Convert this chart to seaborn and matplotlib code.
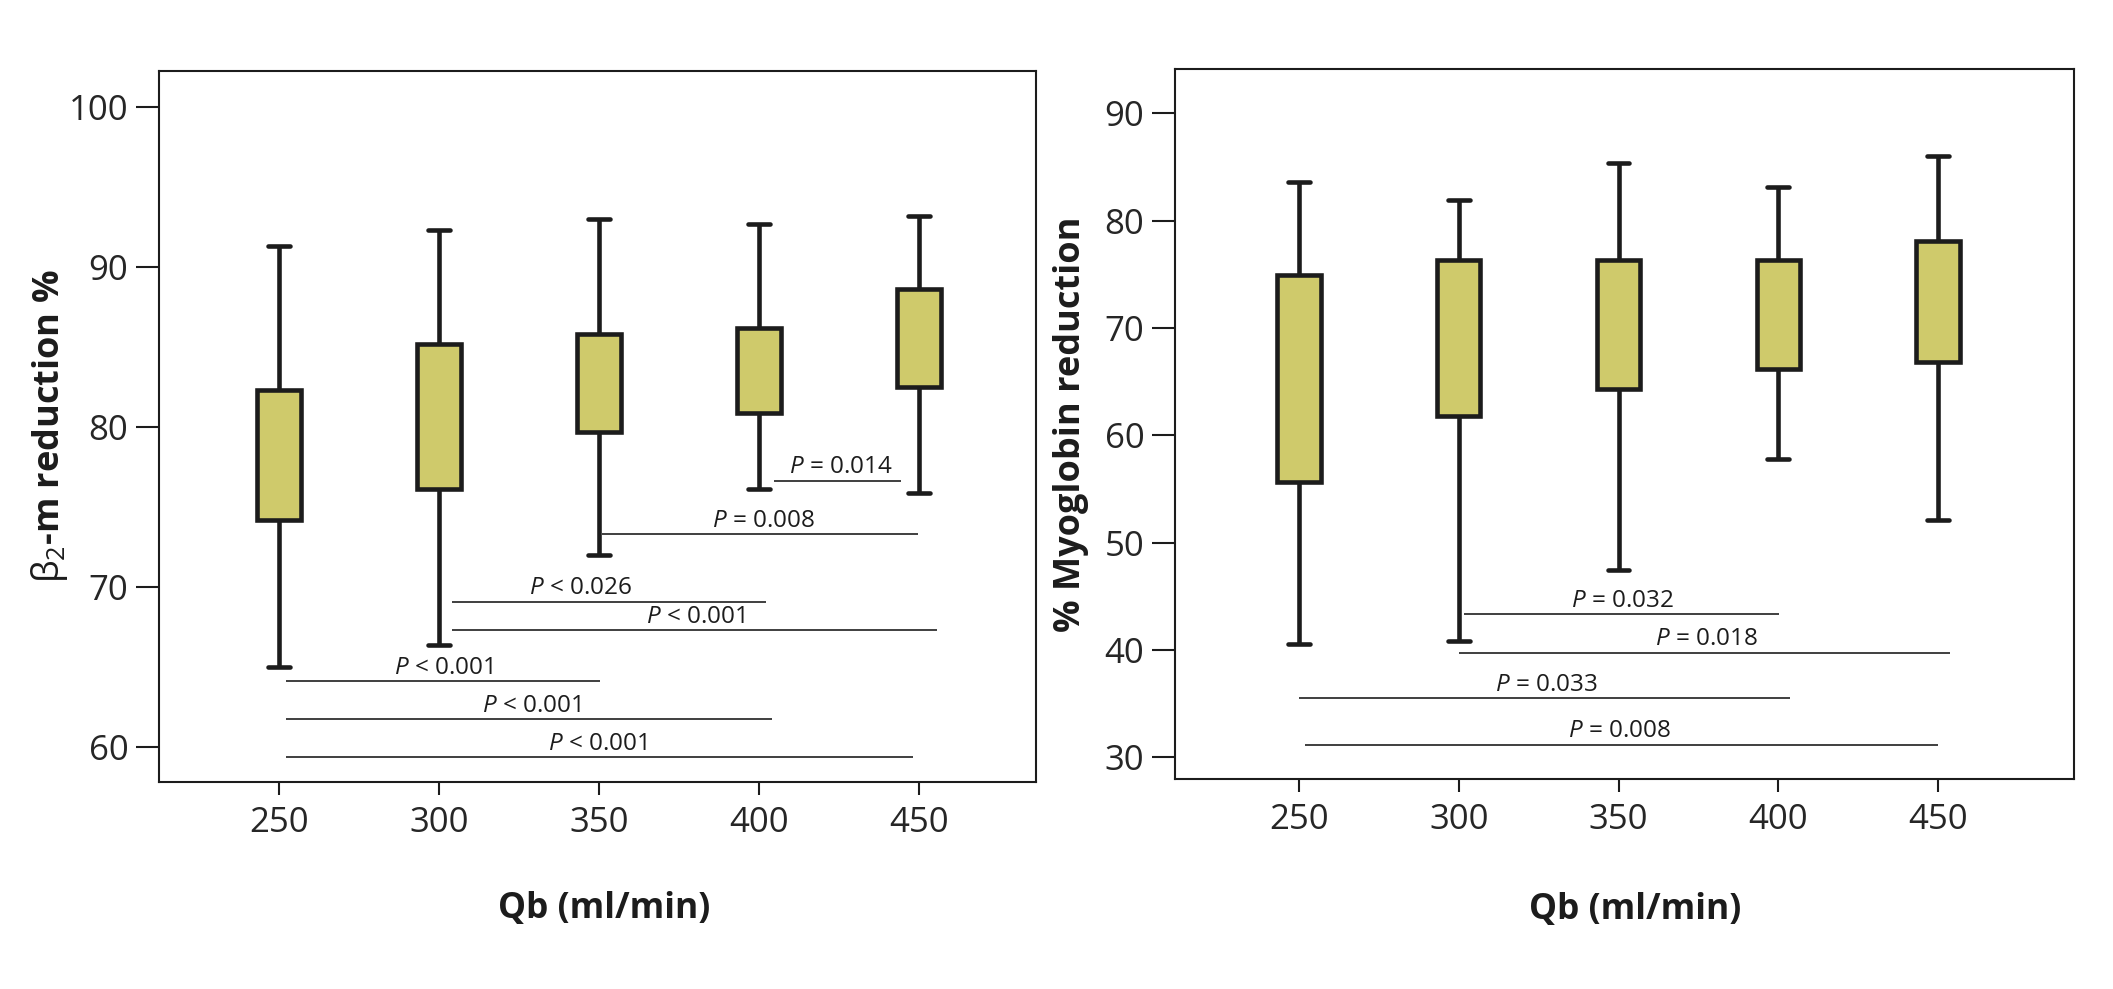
import pandas as pd
import matplotlib
matplotlib.use("Agg")
import matplotlib.pyplot as plt
import seaborn as sns

# blood flow rates on the x axis
qb = [250, 300, 350, 400, 450]

# beta2-microglobulin reduction %: whisker ends and box edges per Qb
b2m_low = [65.0, 66.4, 72.0, 76.1, 75.9]
b2m_q1 = [74.2, 76.1, 79.7, 80.9, 82.5]
b2m_q3 = [82.3, 85.2, 85.8, 86.2, 88.6]
b2m_high = [91.3, 92.3, 93.0, 92.7, 93.2]

# myoglobin reduction %
myo_low = [40.5, 40.8, 47.4, 57.8, 52.1]
myo_q1 = [55.6, 61.8, 64.3, 66.2, 66.8]
myo_q3 = [74.9, 76.3, 76.3, 76.3, 78.1]
myo_high = [83.6, 81.9, 85.4, 83.1, 86.0]

# pairwise comparisons (bar from / to, bar level, label, label centre)
b2m_p_from = [404.8, 350.8, 304.0, 304.0, 252.1, 252.1, 252.1]
b2m_p_to = [444.4, 449.6, 402.2, 455.7, 350.3, 404.1, 448.1]
b2m_p_level = [76.64, 73.29, 69.07, 67.3, 64.11, 61.74, 59.38]
b2m_p_label = ["P = 0.014", "P = 0.008", "P < 0.026", "P < 0.001",
               "P < 0.001", "P < 0.001", "P < 0.001"]
b2m_p_at = [425.6, 401.3, 344.3, 380.0, 301.4, 328.9, 349.6]

myo_p_from = [301.7, 300.2, 250.1, 251.9]
myo_p_to = [400.3, 453.8, 403.7, 450.0]
myo_p_level = [43.3, 39.73, 35.47, 31.12]
myo_p_label = ["P = 0.032", "P = 0.018", "P = 0.033", "P = 0.008"]
myo_p_at = [351.2, 377.6, 327.3, 350.4]

BOX_FILL = "#cfca6b"
INK = "#1c1c1c"
BAR_INK = "#303030"

sns.set_style("ticks")
plt.rcParams["font.family"] = ["Open Sans", "DejaVu Sans"]
plt.rcParams["mathtext.fontset"] = "custom"
plt.rcParams["mathtext.rm"] = "Open Sans"
plt.rcParams["mathtext.it"] = "Open Sans:italic"
plt.rcParams["mathtext.bf"] = "Open Sans:bold"


def box_frame(low, q1, q3, high):
    # five points per group so the quartiles fall on the box edges;
    # whiskers run to min/max and the median line is hidden
    rows = []
    for x, lo, a, b, hi in zip(qb, low, q1, q3, high):
        for v in (lo, a, a, b, hi):
            rows.append({"qb": x, "value": v})
    return pd.DataFrame(rows)


def draw_panel(ax, df, ylim, yticks, ylabel, p_from, p_to, p_level, p_label, p_at):
    sns.boxplot(data=df, x="qb", y="value", native_scale=True, width=0.27,
                whis=(0, 100), showfliers=False, color=BOX_FILL, saturation=1,
                linecolor=INK, linewidth=3.3, medianprops={"visible": False}, ax=ax)

    ax.hlines(p_level, p_from, p_to, color=BAR_INK, linewidth=1.3, zorder=1)
    for x, y, lab in zip(p_at, p_level, p_label):
        ax.annotate(lab.replace("P", "$P$", 1), xy=(x, y), xytext=(0, 5.5),
                    textcoords="offset points", ha="center", va="baseline",
                    fontsize=17.5, color=INK)

    ax.set_ylim(*ylim)
    ax.set_yticks(yticks)
    ax.set_xticks(qb)
    ax.set_xticklabels([str(v) for v in qb])
    ax.set_xlabel("Qb (ml/min)", fontsize=25.5, fontweight="bold", color=INK)
    ax.set_ylabel(ylabel, fontsize=26, fontweight="bold", color=INK)

    for side in ["left", "right", "top", "bottom"]:
        ax.spines[side].set_visible(True)
        ax.spines[side].set_linewidth(1.5)
        ax.spines[side].set_color(INK)
    ax.tick_params(axis="both", labelsize=25, colors=INK, width=1.5,
                   top=False, right=False)
    ax.tick_params(axis="y", length=16.5, pad=5.5)
    ax.tick_params(axis="x", length=9, pad=8)
    for lab in ax.get_xticklabels() + ax.get_yticklabels():
        lab.set_color("#262626")


fig = plt.figure(figsize=(21.13, 9.89), dpi=100)
fig.patch.set_facecolor("white")

ax1 = fig.add_axes([0.0752, 0.2093, 0.4153, 0.7186])
draw_panel(ax1, box_frame(b2m_low, b2m_q1, b2m_q3, b2m_high),
           (57.83, 102.21), [60, 70, 80, 90, 100],
           r"$\mathrm{\beta}_{\mathrm{2}}$-m reduction %",
           b2m_p_from, b2m_p_to, b2m_p_level, b2m_p_label, b2m_p_at)
ax1.set_xlim(212.5, 486.7)
ax1.yaxis.set_label_coords(-0.101, 0.5)
ax1.xaxis.set_label_coords(0.507, -0.154)

ax2 = fig.add_axes([0.5561, 0.2123, 0.4255, 0.7179])
draw_panel(ax2, box_frame(myo_low, myo_q1, myo_q3, myo_high),
           (27.96, 94.12), [30, 40, 50, 60, 70, 80, 90],
           "% Myoglobin reduction",
           myo_p_from, myo_p_to, myo_p_level, myo_p_label, myo_p_at)
ax2.set_xlim(211.2, 492.6)
ax2.yaxis.set_label_coords(-0.096, 0.5)
ax2.xaxis.set_label_coords(0.512, -0.159)

fig.savefig("out.png", dpi=100, facecolor="white")
